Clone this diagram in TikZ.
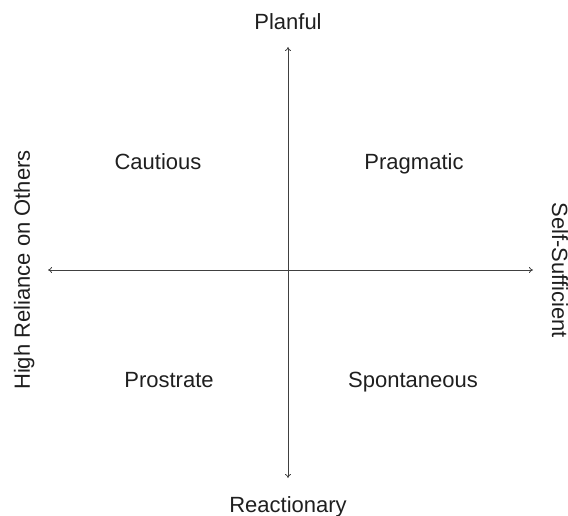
\documentclass[tikz,border=0pt]{standalone}
\usepackage{fontspec}
\setmainfont{Liberation Sans}
\usetikzlibrary{arrows.meta}
\begin{document}
\begin{tikzpicture}[x=1pt,y=-1pt,
  axis/.style={draw=black!75, line width=0.8pt, {To[length=4pt,width=6pt]}-{To[length=4pt,width=6pt]}},
  lbl/.style={font=\fontsize{22}{26}\selectfont, text=black!88, inner sep=0pt, anchor=base}]
  \useasboundingbox (0,0) rectangle (568,516);
  % axis end points
  \coordinate (top) at (288,47);
  \coordinate (bottom) at (288,478);
  \coordinate (left) at (48,270);
  \coordinate (right) at (533,270);
  \draw[axis] (top) -- (bottom);
  \draw[axis] (left) -- (right);
  % axis labels
  \node[lbl] (planful) at (288,30) {Planful};
  \node[lbl] (react) at (288,512) {Reactionary};
  \node[lbl, rotate=90] (high) at (30,270) {High Reliance on Others};
  \node[lbl, rotate=-90] (self) at (552,270) {Self-Sufficient};
  % quadrant labels
  \node[lbl] (cautious) at (158,170) {Cautious};
  \node[lbl] (pragmatic) at (414,170) {Pragmatic};
  \node[lbl] (prostrate) at (169,387) {Prostrate};
  \node[lbl] (spont) at (413,387) {Spontaneous};
\end{tikzpicture}
\end{document}
